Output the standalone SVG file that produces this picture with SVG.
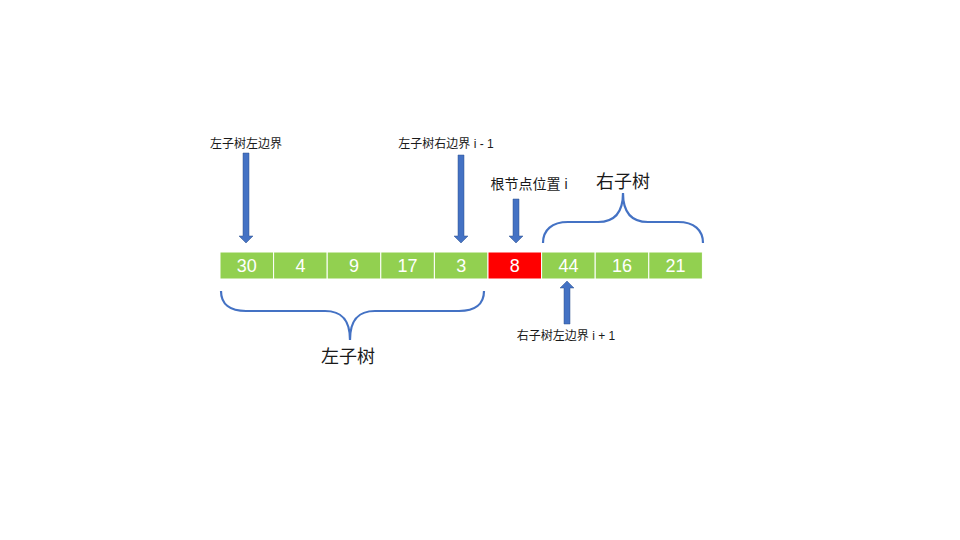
<svg xmlns="http://www.w3.org/2000/svg" width="960" height="540" viewBox="0 0 960 540">
<defs>
<style>
.cell{fill:#92d050;stroke:#ffffff;stroke-width:1}
.root{fill:#ff0000;stroke:#ffffff;stroke-width:1}
.num{font-family:"Liberation Sans",Arial,sans-serif;font-size:18px;fill:#ffffff;text-anchor:middle}
.lbl{font-family:"Liberation Sans","Noto Sans CJK SC",sans-serif;fill:#1a1a1a;text-anchor:middle}
.arrow{fill:#4472c4;stroke:#2f528f;stroke-width:0.5}
.brace{fill:none;stroke:#4472c4;stroke-width:2.2}
</style>
</defs>
<rect width="960" height="540" fill="#ffffff"/>
<g id="array">
<g id="n0"><rect class="cell" x="220" y="252" width="53.6" height="27"/><text class="num" x="246.8" y="272">30</text></g>
<g id="n1"><rect class="cell" x="273.6" y="252" width="53.6" height="27"/><text class="num" x="300.4" y="272">4</text></g>
<g id="n2"><rect class="cell" x="327.2" y="252" width="53.6" height="27"/><text class="num" x="354" y="272">9</text></g>
<g id="n3"><rect class="cell" x="380.8" y="252" width="53.6" height="27"/><text class="num" x="407.6" y="272">17</text></g>
<g id="n4"><rect class="cell" x="434.4" y="252" width="53.6" height="27"/><text class="num" x="461.2" y="272">3</text></g>
<g id="n5"><rect class="root" x="488" y="252" width="53.6" height="27"/><text class="num" x="514.8" y="272">8</text></g>
<g id="n6"><rect class="cell" x="541.6" y="252" width="53.6" height="27"/><text class="num" x="568.4" y="272">44</text></g>
<g id="n7"><rect class="cell" x="595.2" y="252" width="53.6" height="27"/><text class="num" x="622" y="272">16</text></g>
<g id="n8"><rect class="cell" x="648.8" y="252" width="53.6" height="27"/><text class="num" x="675.6" y="272">21</text></g>
</g>
<g id="connectors">
<path class="arrow" d="M243,153 H249 V236 H253 L246,243 L239,236 H243 Z"/>
<path class="arrow" d="M458,155 H464 V236 H468 L461,243 L454,236 H458 Z"/>
<path class="arrow" d="M513,199 H519 V236 H523 L516,243 L509,236 H513 Z"/>
<path class="arrow" d="M564,324 H570 V288 H574 L567,281 L560,288 H564 Z"/>
<path class="brace" d="M221,291 C221,304 230,311 246,311 H325 C340,311 350,318 350,340 C350,318 360,311 375,311 H459 C475,311 484,304 484,291"/>
<path class="brace" d="M543,243 C543,230 552,222 568,222 H598 C613,222 623,214 623,193 C623,214 633,222 648,222 H678 C694,222 703,230 703,243"/>
</g>
<g id="labels">
<text class="lbl" x="246" y="148" font-size="12">左子树左边界</text>
<text class="lbl" x="446" y="148" font-size="12">左子树右边界 i - 1</text>
<text class="lbl" x="529" y="189" font-size="14">根节点位置 i</text>
<text class="lbl" x="623" y="188" font-size="18">右子树</text>
<text class="lbl" x="348" y="363" font-size="18">左子树</text>
<text class="lbl" x="566" y="340" font-size="12">右子树左边界 i + 1</text>
</g>
</svg>
